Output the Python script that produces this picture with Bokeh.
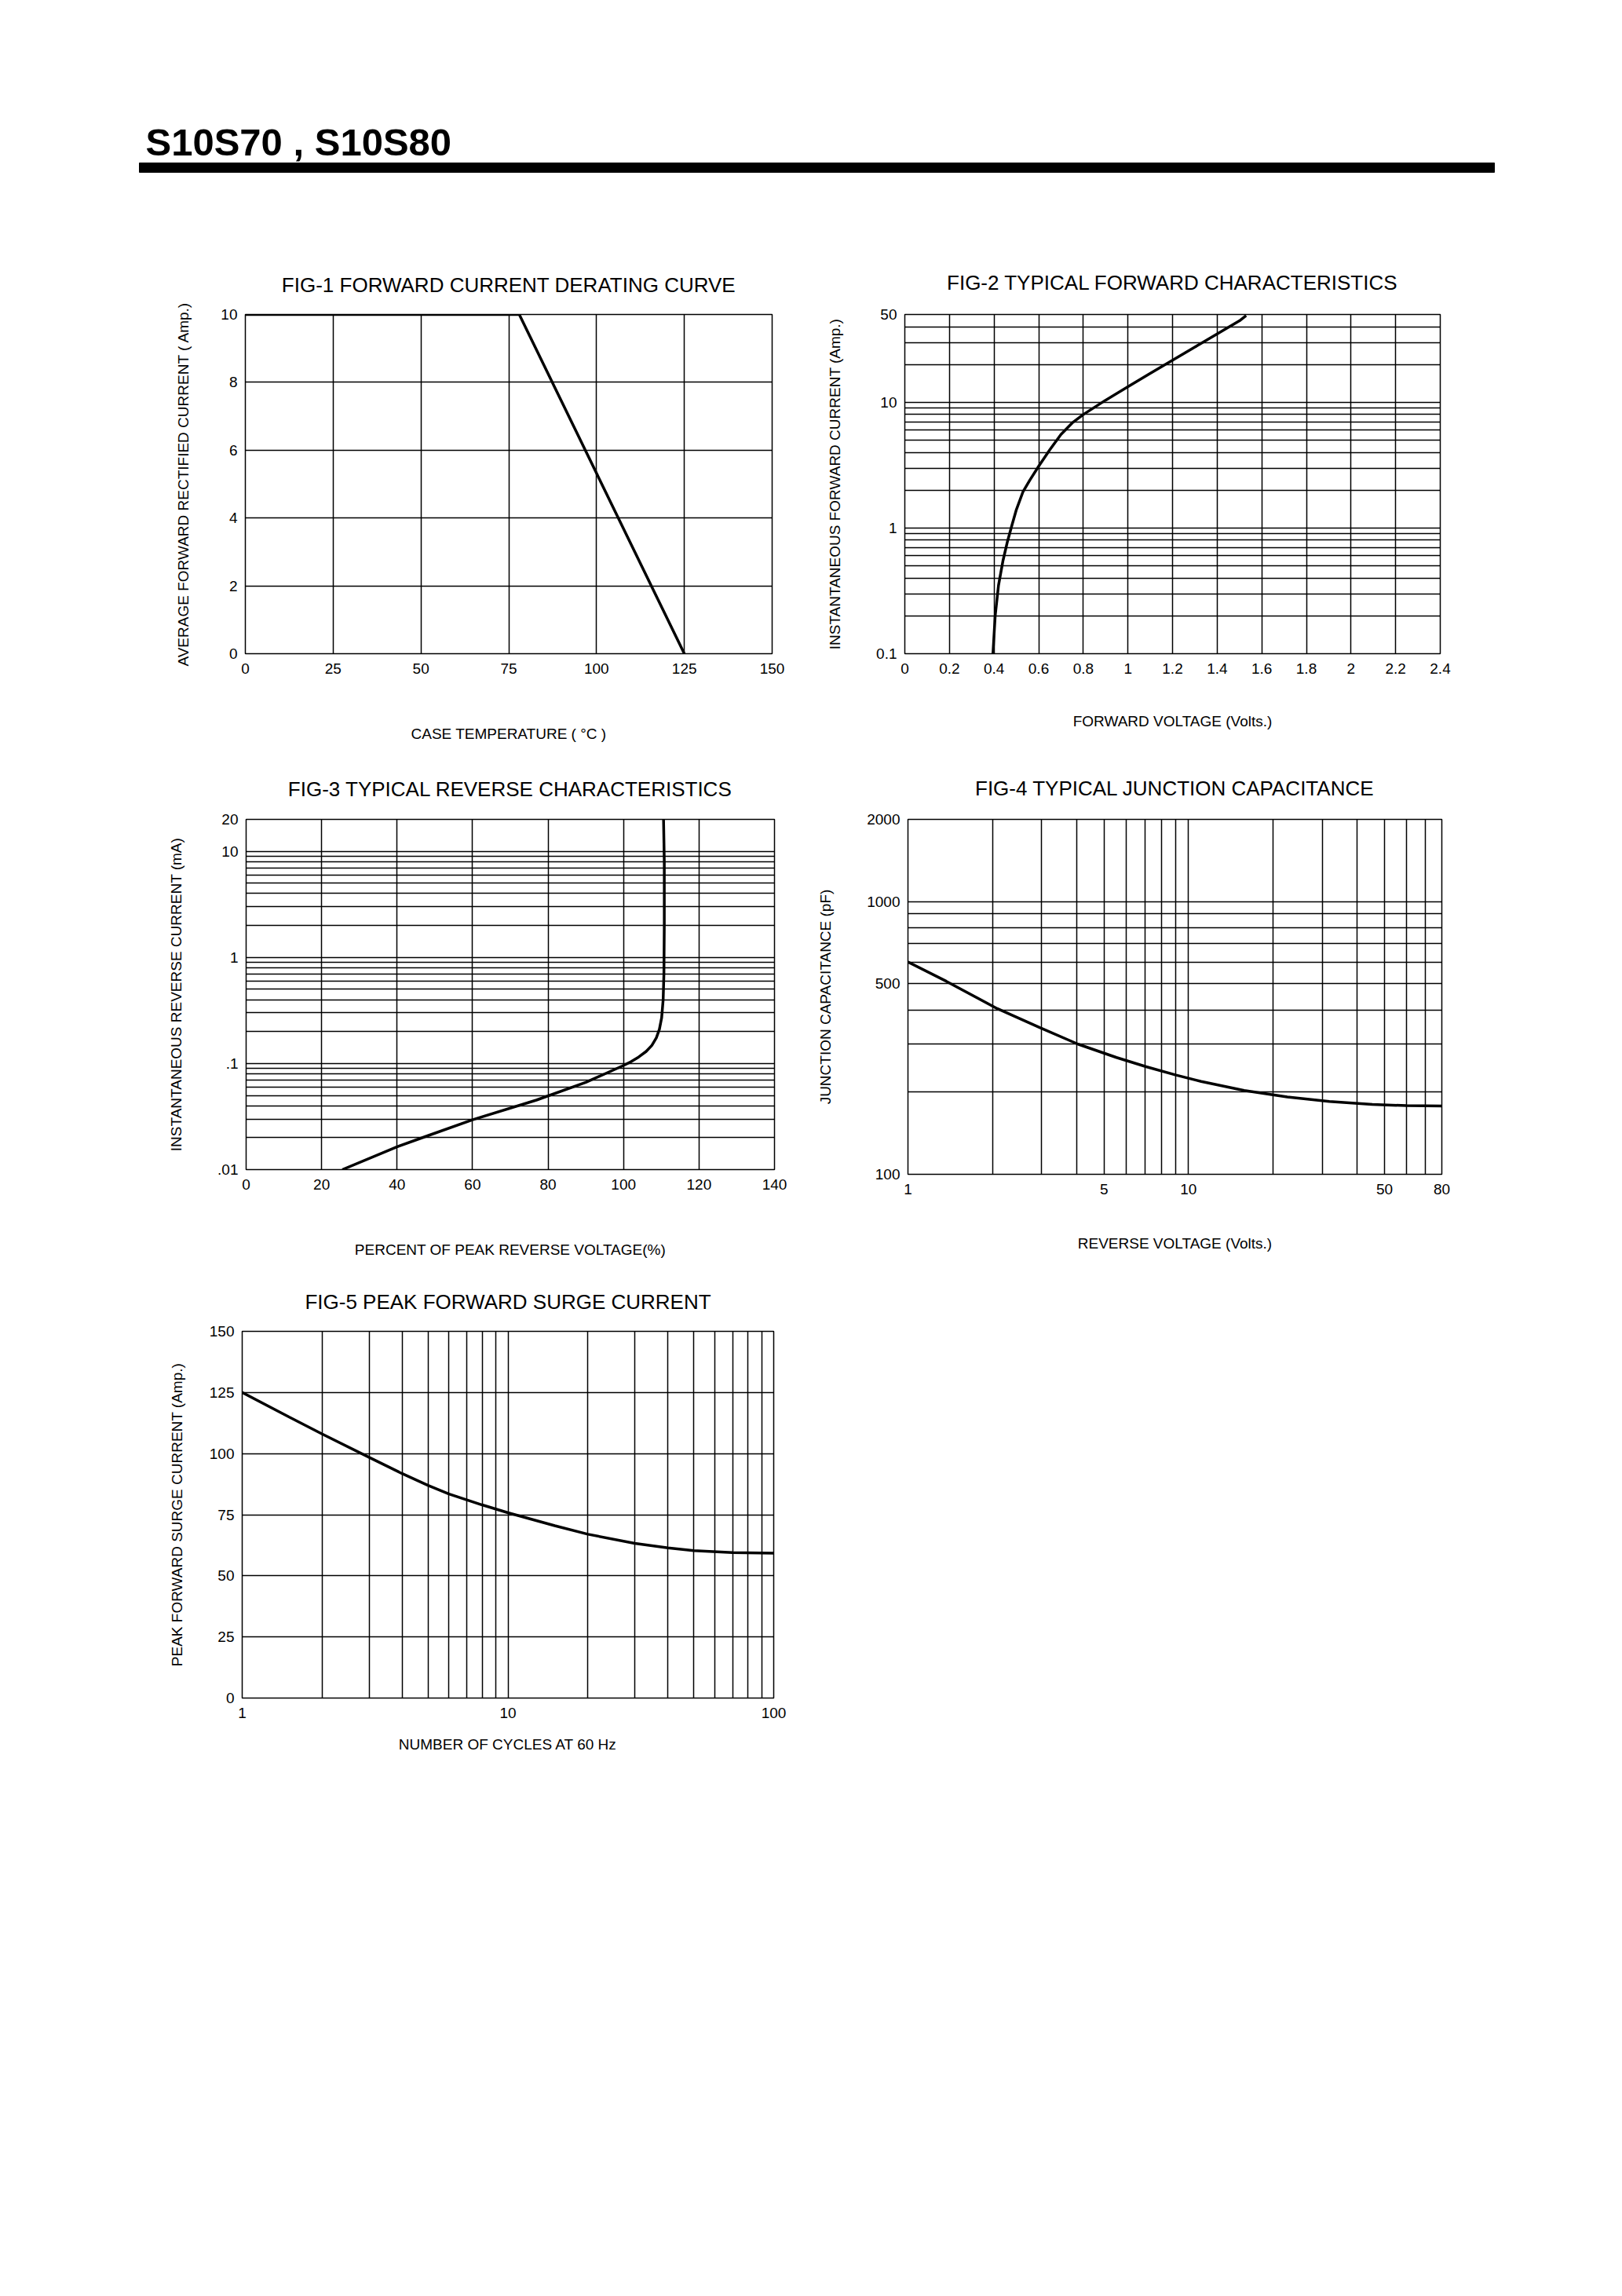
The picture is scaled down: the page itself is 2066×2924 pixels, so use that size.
from bokeh.plotting import figure
from bokeh.layouts import column, row
from bokeh.models import Range1d, FixedTicker
from bokeh.core.properties import value
from bokeh.embed import file_html
from bokeh.resources import INLINE

# ---------------- data ----------------
page_title = "S10S70 , S10S80"

fig1_title = "FIG-1 FORWARD CURRENT DERATING CURVE"
fig1_xlabel = "CASE TEMPERATURE ( °C )"
fig1_ylabel = "AVERAGE FORWARD RECTIFIED CURRENT ( Amp.)"
fig1_temp = [0, 78, 125]
fig1_current = [10, 10, 0]
fig1_xticks = [0, 25, 50, 75, 100, 125, 150]
fig1_yticks = [0, 2, 4, 6, 8, 10]

fig2_title = "FIG-2 TYPICAL FORWARD CHARACTERISTICS"
fig2_xlabel = "FORWARD VOLTAGE (Volts.)"
fig2_ylabel = "INSTANTANEOUS FORWARD CURRENT (Amp.)"
fig2_voltage = [0.395, 0.405, 0.42, 0.44, 0.46, 0.48, 0.50, 0.53, 0.56, 0.60, 0.65, 0.70, 0.75, 0.80,
                0.90, 1.00, 1.10, 1.20, 1.30, 1.40, 1.50, 1.53]
fig2_current = [0.1, 0.2, 0.35, 0.55, 0.78, 1.05, 1.4, 1.95, 2.4, 3.1, 4.2, 5.55, 6.85, 8.0,
                10.4, 13.3, 17.0, 21.6, 27.5, 35.0, 44.5, 49.0]
fig2_xticks = [0, 0.2, 0.4, 0.6, 0.8, 1, 1.2, 1.4, 1.6, 1.8, 2, 2.2, 2.4]
fig2_xlabels = ["0", "0.2", "0.4", "0.6", "0.8", "1", "1.2", "1.4", "1.6", "1.8", "2", "2.2", "2.4"]
fig2_yticks = [0.1, 1, 10, 50]
fig2_ylabels = ["0.1", "1", "10", "50"]
fig2_ygrid = [0.1, 0.2, 0.3, 0.4, 0.5, 0.6, 0.7, 0.8, 0.9, 1, 2, 3, 4, 5, 6, 7, 8, 9, 10, 20, 30, 40, 50]

fig3_title = "FIG-3 TYPICAL REVERSE CHARACTERISTICS"
fig3_xlabel = "PERCENT OF PEAK REVERSE VOLTAGE(%)"
fig3_ylabel = "INSTANTANEOUS REVERSE CURRENT (mA)"
fig3_percent = [25.5, 39.8, 48.2, 60.1, 76.9, 90.0, 99.6, 102.0, 104.0, 106.0, 107.5, 108.7, 109.5,
                110.1, 110.5, 110.7, 110.8, 110.8, 110.6]
fig3_current = [0.01, 0.0163, 0.0209, 0.0296, 0.0452, 0.0664, 0.0944, 0.104, 0.115, 0.13, 0.148, 0.175, 0.21,
                0.27, 0.4, 0.7, 2.0, 8.0, 20.0]
fig3_xticks = [0, 20, 40, 60, 80, 100, 120, 140]
fig3_yticks = [0.01, 0.1, 1, 10, 20]
fig3_ylabels = [".01", ".1", "1", "10", "20"]
fig3_ygrid = [0.01, 0.02, 0.03, 0.04, 0.05, 0.06, 0.07, 0.08, 0.09, 0.1, 0.2, 0.3, 0.4, 0.5, 0.6, 0.7, 0.8, 0.9,
              1, 2, 3, 4, 5, 6, 7, 8, 9, 10, 20]

fig4_title = "FIG-4 TYPICAL JUNCTION CAPACITANCE"
fig4_xlabel = "REVERSE VOLTAGE (Volts.)"
fig4_ylabel = "JUNCTION CAPACITANCE (pF)"
fig4_voltage = [1, 1.37, 2.08, 2.95, 4.04, 5.54, 7.07, 9.03, 11.1, 15.8, 22.5, 31.8, 45.2, 59.8, 80]
fig4_capacitance = [600, 510, 405, 345, 300, 268, 248, 231, 219, 203, 192, 185, 180.5, 178.5, 178]
fig4_xticks = [1, 5, 10, 50, 80]
fig4_xlabels = ["1", "5", "10", "50", "80"]
fig4_xgrid = [1, 2, 3, 4, 5, 6, 7, 8, 9, 10, 20, 30, 40, 50, 60, 70, 80]
fig4_yticks = [100, 500, 1000, 2000]
fig4_ylabels = ["100", "500", "1000", "2000"]
fig4_ygrid = [100, 200, 300, 400, 500, 600, 700, 800, 900, 1000, 2000]

fig5_title = "FIG-5 PEAK FORWARD SURGE CURRENT"
fig5_xlabel = "NUMBER OF CYCLES AT 60 Hz"
fig5_ylabel = "PEAK FORWARD SURGE CURRENT (Amp.)"
fig5_cycles = [1, 1.5, 2, 3, 4, 5, 6, 8, 10, 15, 20, 30, 40, 50, 70, 100]
fig5_current = [125, 115, 108, 98.5, 91.8, 87, 83.5, 79, 75.8, 70.5, 67, 63.3, 61.4, 60.3, 59.5, 59.3]
fig5_xticks = [1, 10, 100]
fig5_xlabels = ["1", "10", "100"]
fig5_xgrid = [1, 2, 3, 4, 5, 6, 7, 8, 9, 10, 20, 30, 40, 50, 60, 70, 80, 90, 100]
fig5_yticks = [0, 25, 50, 75, 100, 125, 150]

# ---------------- style ----------------
FONT = "Liberation Sans"
TITLE_SIZE = "26px"
TICK_SIZE = "19px"
LABEL_SIZE = "19px"
GRID_W = 1.5
CURVE_W = 3.5


def overrides(ticks, labels):
    d = {}
    for t, l in zip(ticks, labels):
        d[t] = l
        d[str(t)] = l
    return d


def make_chart(title, xlabel, ylabel, xr, yr, x_type, y_type,
               fw, fh, bl, br, bt, bb,
               xticks, xlabels, xgrid, yticks, ylabels, ygrid,
               title_standoff, title_offset, ylab_standoff, xlab_standoff):
    p = figure(frame_width=fw, frame_height=fh,
               x_range=Range1d(*xr), y_range=Range1d(*yr),
               x_axis_type=x_type, y_axis_type=y_type,
               min_border_left=bl, min_border_right=br,
               min_border_top=bt, min_border_bottom=bb,
               toolbar_location=None, output_backend="svg",
               background_fill_color="white", border_fill_color="white")
    p.title.text = title
    p.title.align = "center"
    p.title.text_font = FONT
    p.title.text_font_size = TITLE_SIZE
    p.title.text_font_style = "normal"
    p.title.text_color = "black"
    p.title.standoff = title_standoff
    p.title.offset = title_offset

    p.outline_line_color = "black"
    p.outline_line_width = 1.5

    p.xaxis.ticker = FixedTicker(ticks=xticks)
    p.yaxis.ticker = FixedTicker(ticks=yticks)
    p.xaxis.major_label_overrides = overrides(xticks, xlabels)
    p.yaxis.major_label_overrides = overrides(yticks, ylabels)
    p.xgrid.ticker = FixedTicker(ticks=xgrid)
    p.ygrid.ticker = FixedTicker(ticks=ygrid)
    for g in (p.xgrid, p.ygrid):
        g.grid_line_color = "black"
        g.grid_line_width = GRID_W
        g.grid_line_alpha = 1.0

    for ax in (p.xaxis, p.yaxis):
        ax.axis_line_color = None
        ax.major_tick_line_color = None
        ax.minor_tick_line_color = None
        ax.major_tick_in = 0
        ax.major_tick_out = 0
        ax.minor_tick_in = 0
        ax.minor_tick_out = 0
        ax.major_label_text_font = FONT
        ax.major_label_text_font_size = TICK_SIZE
        ax.major_label_text_color = "black"
        ax.axis_label_text_font = FONT
        ax.axis_label_text_font_size = LABEL_SIZE
        ax.axis_label_text_font_style = "normal"
        ax.axis_label_text_color = "black"
    p.xaxis.major_label_standoff = 12
    p.yaxis.major_label_standoff = 10
    p.xaxis.axis_label = xlabel
    p.yaxis.axis_label = ylabel
    p.xaxis.axis_label_standoff = xlab_standoff
    p.yaxis.axis_label_standoff = ylab_standoff
    return p


# header
header = figure(width=2050, height=252, x_range=Range1d(0, 2050), y_range=Range1d(0, 252),
                toolbar_location=None, output_backend="svg",
                min_border=0, outline_line_color=None)
header.axis.visible = False
header.grid.visible = False
header.text(x=[185], y=[72], text=[page_title], text_font=value("Liberation Sans"),
            text_font_style="bold", text_font_size="49px", text_color="black",
            text_baseline="alphabetic", text_align="left")
header.quad(left=[177], right=[1903], bottom=[33], top=[45], color="black")

# row 1 (starts at layout y 252)
f1 = make_chart(fig1_title, fig1_xlabel, fig1_ylabel, (0, 150), (0, 10), "linear", "linear",
                671, 432, 312, 48, 148, 120,
                fig1_xticks, [str(t) for t in fig1_xticks], fig1_xticks,
                fig1_yticks, [str(t) for t in fig1_yticks], fig1_yticks,
                46, -8, 34, 63)
f1.line(fig1_temp, fig1_current, line_color="black", line_width=CURVE_W)

f2 = make_chart(fig2_title, fig2_xlabel, fig2_ylabel, (0, 2.4), (0.1, 50), "linear", "log",
                682, 432, 121, 50, 141, 127,
                fig2_xticks, fig2_xlabels, fig2_xticks,
                fig2_yticks, fig2_ylabels, fig2_ygrid,
                52, -10, 39, 47)
f2.line(fig2_voltage, fig2_current, line_color="black", line_width=CURVE_W)

# row 2 (starts at layout y 952)
f3 = make_chart(fig3_title, fig3_xlabel, fig3_ylabel, (0, 140), (0.01, 20), "linear", "log",
                673, 446, 313, 50, 91, 128,
                fig3_xticks, [str(t) for t in fig3_xticks], fig3_xticks,
                fig3_yticks, fig3_ylabels, fig3_ygrid,
                48, -11, 39, 63)
f3.line(fig3_percent, fig3_current, line_color="black", line_width=CURVE_W)

f4 = make_chart(fig4_title, fig4_xlabel, fig4_ylabel, (1, 80), (100, 2000), "log", "log",
                680, 452, 120, 50, 86, 127,
                fig4_xticks, fig4_xlabels, fig4_xgrid,
                fig4_yticks, fig4_ylabels, fig4_ygrid,
                49, -20, 39, 49)
f4.line(fig4_voltage, fig4_capacitance, line_color="black", line_width=CURVE_W)

# row 3 (starts at layout y 1617)
f5 = make_chart(fig5_title, fig5_xlabel, fig5_ylabel, (1, 100), (0, 150), "log", "linear",
                677, 467, 308, 50, 77, 130,
                fig5_xticks, fig5_xlabels, fig5_xgrid,
                fig5_yticks, [str(t) for t in fig5_yticks], fig5_yticks,
                46, -15, 28, 20)
f5.line(fig5_cycles, fig5_current, line_color="black", line_width=CURVE_W)

layout = column(header, row(f1, f2), row(f3, f4), row(f5), spacing=0)
open("out.html", "w").write(file_html(layout, INLINE))
